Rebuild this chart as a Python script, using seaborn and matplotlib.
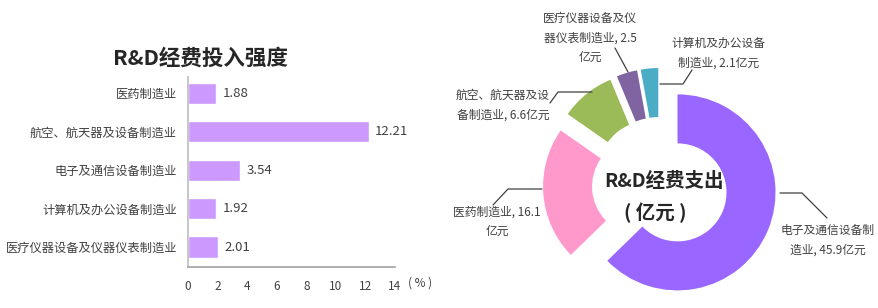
import matplotlib
matplotlib.use("Agg")
import matplotlib.pyplot as plt
import seaborn as sns
import pandas as pd

sns.set_theme(style="white")
plt.rcParams['font.family'] = ['Noto Sans CJK SC', 'DejaVu Sans']

# ---- data ----
bar_categories = ["医药制造业", "航空、航天器及设备制造业", "电子及通信设备制造业",
                  "计算机及办公设备制造业", "医疗仪器设备及仪器仪表制造业"]
bar_values = [1.88, 12.21, 3.54, 1.92, 2.01]
x_ticks = [0, 2, 4, 6, 8, 10, 12, 14]

pie_names = ["电子及通信设备制造业", "医药制造业", "航空、航天器及设备制造业",
             "医疗仪器设备及仪器仪表制造业", "计算机及办公设备制造业"]
pie_values = [45.9, 16.1, 6.6, 2.5, 2.1]
pie_labels = ["电子及通信设备制\n造业, 45.9亿元",
              "医药制造业, 16.1\n亿元",
              "航空、航天器及设\n备制造业, 6.6亿元",
              "医疗仪器设备及仪\n器仪表制造业, 2.5\n亿元",
              "计算机及办公设备\n制造业, 2.1亿元"]
pie_colors = ["#9966FF", "#FF99CC", "#9BBB59", "#8064A2", "#4BACC6"]

TXT = "#404040"
fig = plt.figure(figsize=(8.79, 3.08), dpi=100)

# ---- bar chart ----
ax = fig.add_axes([188/879, 1-267/308, (395-188)/879, (267-77)/308])
df = pd.DataFrame({"cat": bar_categories, "val": bar_values})
sns.barplot(data=df, x="val", y="cat", color="#CC99FF", saturation=1, width=0.55, ax=ax)
ax.set_xlim(0, 14)
ax.set_ylim(4.52, -0.42)
ax.set_xticks(x_ticks)
ax.set_xticklabels([str(t) for t in x_ticks], fontsize=8.5, color=TXT)
ax.tick_params(axis='x', length=0, pad=9)
ax.tick_params(axis='y', length=0, pad=8, labelsize=8.8, labelcolor=TXT)
ax.set_xlabel("")
ax.set_ylabel("")
for s in ["top", "right"]:
    ax.spines[s].set_visible(False)
ax.spines["left"].set_color("#BFBFBF")
ax.spines["bottom"].set_color("#A6A6A6")
for i, v in enumerate(bar_values):
    ax.text(v + 0.45, i, f"{v:.2f}", va="center", ha="left", fontsize=9.5, color=TXT)
fig.text(408/879, 1-283/308, "( % )", fontsize=8.5, color=TXT,
         ha="left", va="center")
fig.text(200/879, 1-58/308, "R&D经费投入强度", ha="center", va="center",
         fontsize=15.5, fontweight="bold", color="#262626")

# ---- donut ----
cx, cy, S = 660, 185, 100.0
pax = fig.add_axes([440/879, 0, 439/879, 1])
pax.pie(pie_values, colors=pie_colors, startangle=90, counterclock=False,
        explode=[0.19]*len(pie_values), radius=0.98,
        wedgeprops=dict(width=0.49, edgecolor="none"))
pax.set_xlim((440-cx)/S, (879-cx)/S)
pax.set_ylim(-(308-cy)/S, cy/S)
pax.set_aspect("auto")
pax.axis("off")

def P(px, py):
    return ((px-cx)/S, (cy-py)/S)

label_pos = [(828, 240), (497, 222), (503, 105), (590, 38), (719, 53)]
leaders = [
    [(780, 193), (802, 193), (827, 218)],
    [(542, 189), (508, 189), (493, 205)],
    [(592, 92), (558, 92), (550, 103)],
    [(628, 72), (615, 48)],
    [(660, 84), (683, 84), (692, 70)],
]
for lab, pos, ld in zip(pie_labels, label_pos, leaders):
    x, y = P(*pos)
    pax.text(x, y, lab, ha="center", va="center", fontsize=8.5, color=TXT,
             linespacing=1.65)
    pts = [P(*p) for p in ld]
    pax.plot([p[0] for p in pts], [p[1] for p in pts], color="#404040", lw=0.9)

x, y = P(664, 181)
pax.text(x, y, "R&D经费支出", ha="center", va="center", fontsize=14,
         fontweight="bold", color="#262626")
x, y = P(655, 213)
pax.text(x, y, "( 亿元 )", ha="center", va="center", fontsize=14,
         fontweight="bold", color="#262626")

fig.savefig("out.png", dpi=100)
